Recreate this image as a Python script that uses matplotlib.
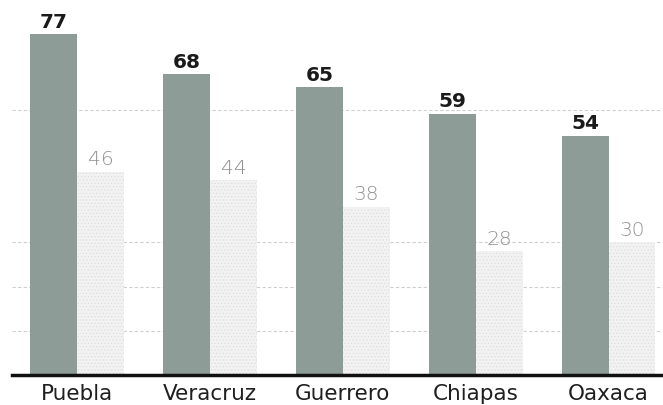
import matplotlib.pyplot as plt
import numpy as np

plt.rcParams['font.family'] = ['DejaVu Sans']
plt.rcParams['hatch.linewidth'] = 0.5

states = ['Puebla', 'Veracruz', 'Guerrero', 'Chiapas', 'Oaxaca']
dark_vals = [77, 68, 65, 59, 54]
light_vals = [46, 44, 38, 28, 30]
grid_levels = [10, 20, 30, 60]

DARK = '#8e9c97'
LIGHT = '#f2f2f2'

fig = plt.figure(figsize=(6.63, 4.06), dpi=100)
ax = fig.add_axes([12 / 663, 30 / 406, 651 / 663, 376 / 406])

x = np.arange(len(states))
w = 0.353

for g in grid_levels:
    ax.axhline(g, color='#cfcfcf', lw=0.8, ls=(0, (3, 2)), zorder=0)

ax.bar(x - w / 2, dark_vals, w, color=DARK, zorder=2)
ax.bar(x + w / 2, light_vals, w, color=LIGHT, hatch='.....',
       edgecolor='#dedede', linewidth=0, zorder=2)

for xi, v in zip(x, dark_vals):
    ax.annotate(str(v), (xi - w / 2, v), xytext=(0, 5.5), textcoords='offset points',
                ha='center', va='baseline', fontsize=14.5, fontweight='bold',
                color='#1a1a1a')
for xi, v in zip(x, light_vals):
    ax.annotate(str(v), (xi + w / 2, v), xytext=(0, 5.5), textcoords='offset points',
                ha='center', va='baseline', fontsize=14.5, color='#929292',
                fontweight='light')

ax.set_xlim(-0.49, 4.41)
ax.set_ylim(0, 85)
ax.set_xticks(x)
ax.set_xticklabels(states, fontsize=15.5, color='#1f1f1f')
ax.tick_params(axis='x', length=0, pad=6)
ax.set_yticks([])
for s in ['top', 'right', 'left']:
    ax.spines[s].set_visible(False)
ax.spines['bottom'].set_linewidth(2.5)
ax.spines['bottom'].set_color('#111111')
ax.spines['bottom'].set_zorder(3)

fig.savefig('out.png', dpi=100)
